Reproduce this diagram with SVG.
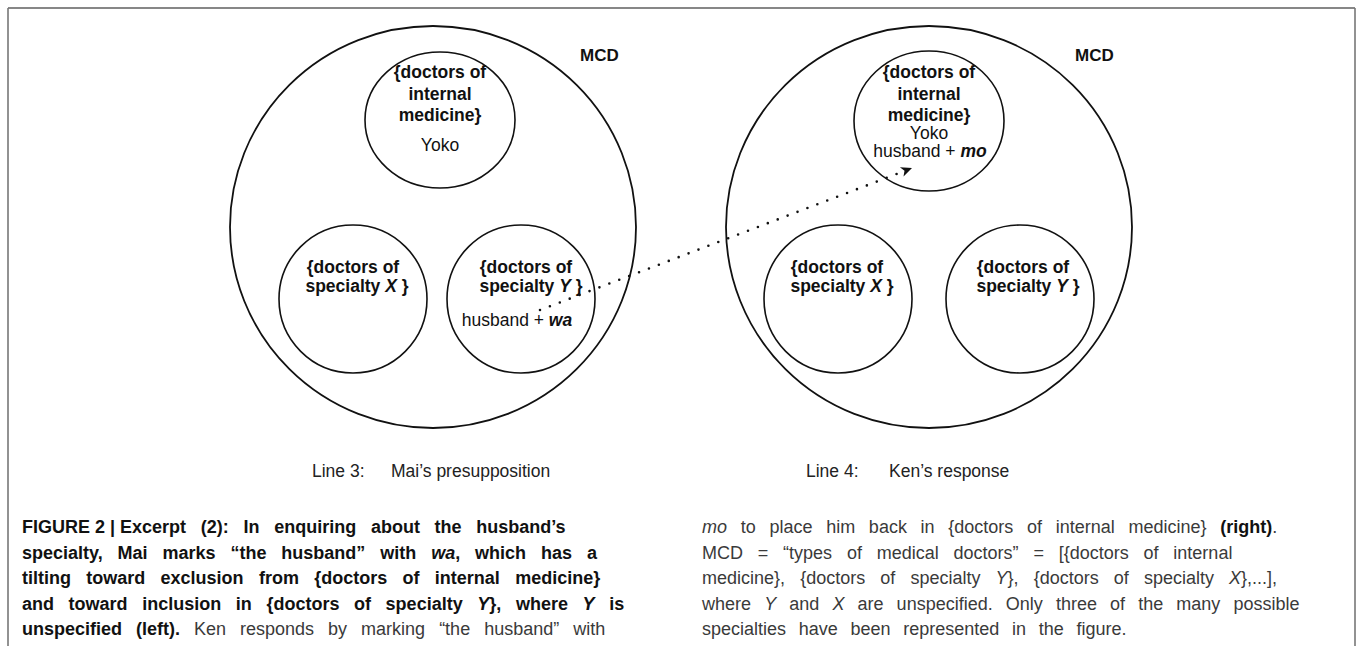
<svg xmlns="http://www.w3.org/2000/svg" width="1358" height="646" viewBox="0 0 1358 646">
<style>
text{font-family:"Liberation Sans",Arial,sans-serif}
.outer{fill:none;stroke:#111;stroke-width:1.8}
.inner{fill:none;stroke:#111;stroke-width:1.6}
.lb{font-size:17.5px;font-weight:bold;fill:#111;text-anchor:middle}
.lr{font-size:17.5px;fill:#111;text-anchor:middle}
.mcd{font-size:17px;font-weight:bold;fill:#111}
.cap{font-size:18px;fill:#3a3a3a}
.capb{font-size:18px;font-weight:bold;fill:#111}
.b{font-weight:bold;fill:#111}
.r{font-weight:normal;fill:#3a3a3a}
.i{font-style:italic}
.line{font-size:17.5px;fill:#222}
.dots{fill:none;stroke:#111;stroke-width:2.6;stroke-linecap:round;stroke-dasharray:0 10.6}
</style>
<g id="frame">
<path d="M8,8 H1355" stroke="#111" stroke-width="1.2" fill="none"/>
<path d="M8,8 V646" stroke="#777" stroke-width="1.6" fill="none"/>
<path d="M1355,8 V646" stroke="#777" stroke-width="1.6" fill="none"/>
</g>
<g id="left-diagram">
<g id="left-mcd">
<ellipse class="outer" cx="433" cy="227" rx="203" ry="201"/>
<text class="mcd" x="580" y="61">MCD</text>
</g>
<g id="left-internal">
<ellipse class="inner" cx="440" cy="120" rx="75" ry="68"/>
<text class="lb" x="440" y="78">{doctors of</text>
<text class="lb" x="440" y="100">internal</text>
<text class="lb" x="440" y="121">medicine}</text>
<text class="lr" x="440" y="151">Yoko</text>
</g>
<g id="left-specX">
<ellipse class="inner" cx="353" cy="299" rx="74" ry="74"/>
<text class="lb" x="353" y="273">{doctors of</text>
<text class="lb" x="357" y="292">specialty <tspan class="i">X</tspan> }</text>
</g>
<g id="left-specY">
<ellipse class="inner" cx="521" cy="299" rx="74" ry="74"/>
<text class="lb" x="526" y="273">{doctors of</text>
<text class="lb" x="531" y="292">specialty <tspan class="i">Y</tspan> }</text>
<text class="lr" x="517" y="326">husband + <tspan class="i" font-weight="bold">wa</tspan></text>
</g>
<text class="line" x="312" y="477">Line 3:</text>
<text class="line" x="391" y="477">Mai’s presupposition</text>
</g>
<g id="right-diagram">
<g id="right-mcd">
<ellipse class="outer" cx="929" cy="227" rx="203" ry="201"/>
<text class="mcd" x="1075" y="61">MCD</text>
</g>
<g id="right-internal">
<ellipse class="inner" cx="929" cy="121" rx="75" ry="70"/>
<text class="lb" x="929" y="78">{doctors of</text>
<text class="lb" x="929" y="100">internal</text>
<text class="lb" x="929" y="121">medicine}</text>
<text class="lr" x="929" y="139">Yoko</text>
<text class="lr" x="930" y="157">husband + <tspan class="i" font-weight="bold">mo</tspan></text>
</g>
<g id="right-specX">
<ellipse class="inner" cx="838" cy="299" rx="74" ry="74"/>
<text class="lb" x="837" y="273">{doctors of</text>
<text class="lb" x="842" y="292">specialty <tspan class="i">X</tspan> }</text>
</g>
<g id="right-specY">
<ellipse class="inner" cx="1020" cy="299" rx="74" ry="74"/>
<text class="lb" x="1023" y="273">{doctors of</text>
<text class="lb" x="1028" y="292">specialty <tspan class="i">Y</tspan> }</text>
</g>
<text class="line" x="806" y="477">Line 4:</text>
<text class="line" x="889" y="477">Ken’s response</text>
</g>
<g id="connectors">
<path class="dots" d="M540,310 L902,172"/>
<polygon points="912,168 899.9,167.2 904.5,170.8 903.5,176.6" fill="#111"/>
</g>
<g id="caption-left">
<text class="capb" x="22" y="533"><tspan word-spacing="0">FIGURE 2 | Excerpt</tspan><tspan word-spacing="9.7"> (2): In enquiring about the husband’s</tspan></text>
<text class="capb" x="22" y="558.5" word-spacing="9.9">specialty, Mai marks “the husband” with <tspan class="i">wa</tspan>, which has a</text>
<text class="capb" x="22" y="584" word-spacing="10.3">tilting toward exclusion from {doctors of internal medicine}</text>
<text class="capb" x="22" y="609.5" word-spacing="9.6">and toward inclusion in {doctors of specialty <tspan class="i">Y</tspan>}, where <tspan class="i">Y</tspan> is</text>
<text class="capb" x="22" y="635" word-spacing="9">unspecified (left). <tspan class="r">Ken responds by marking “the husband” with</tspan></text>
</g>
<g id="caption-right">
<text class="cap" x="702" y="533" word-spacing="8.7"><tspan class="i">mo</tspan> to place him back in {doctors of internal medicine} <tspan class="b">(right)</tspan>.</text>
<text class="cap" x="702" y="558.5" word-spacing="9.8">MCD = “types of medical doctors” = [{doctors of internal</text>
<text class="cap" x="702" y="584" word-spacing="10.1">medicine}, {doctors of specialty <tspan class="i">Y</tspan>}, {doctors of specialty <tspan class="i">X</tspan>},...],</text>
<text class="cap" x="702" y="609.5" word-spacing="8.1">where <tspan class="i">Y</tspan> and <tspan class="i">X</tspan> are unspecified. Only three of the many possible</text>
<text class="cap" x="702" y="635" word-spacing="7.7">specialties have been represented in the figure.</text>
</g>
</svg>
